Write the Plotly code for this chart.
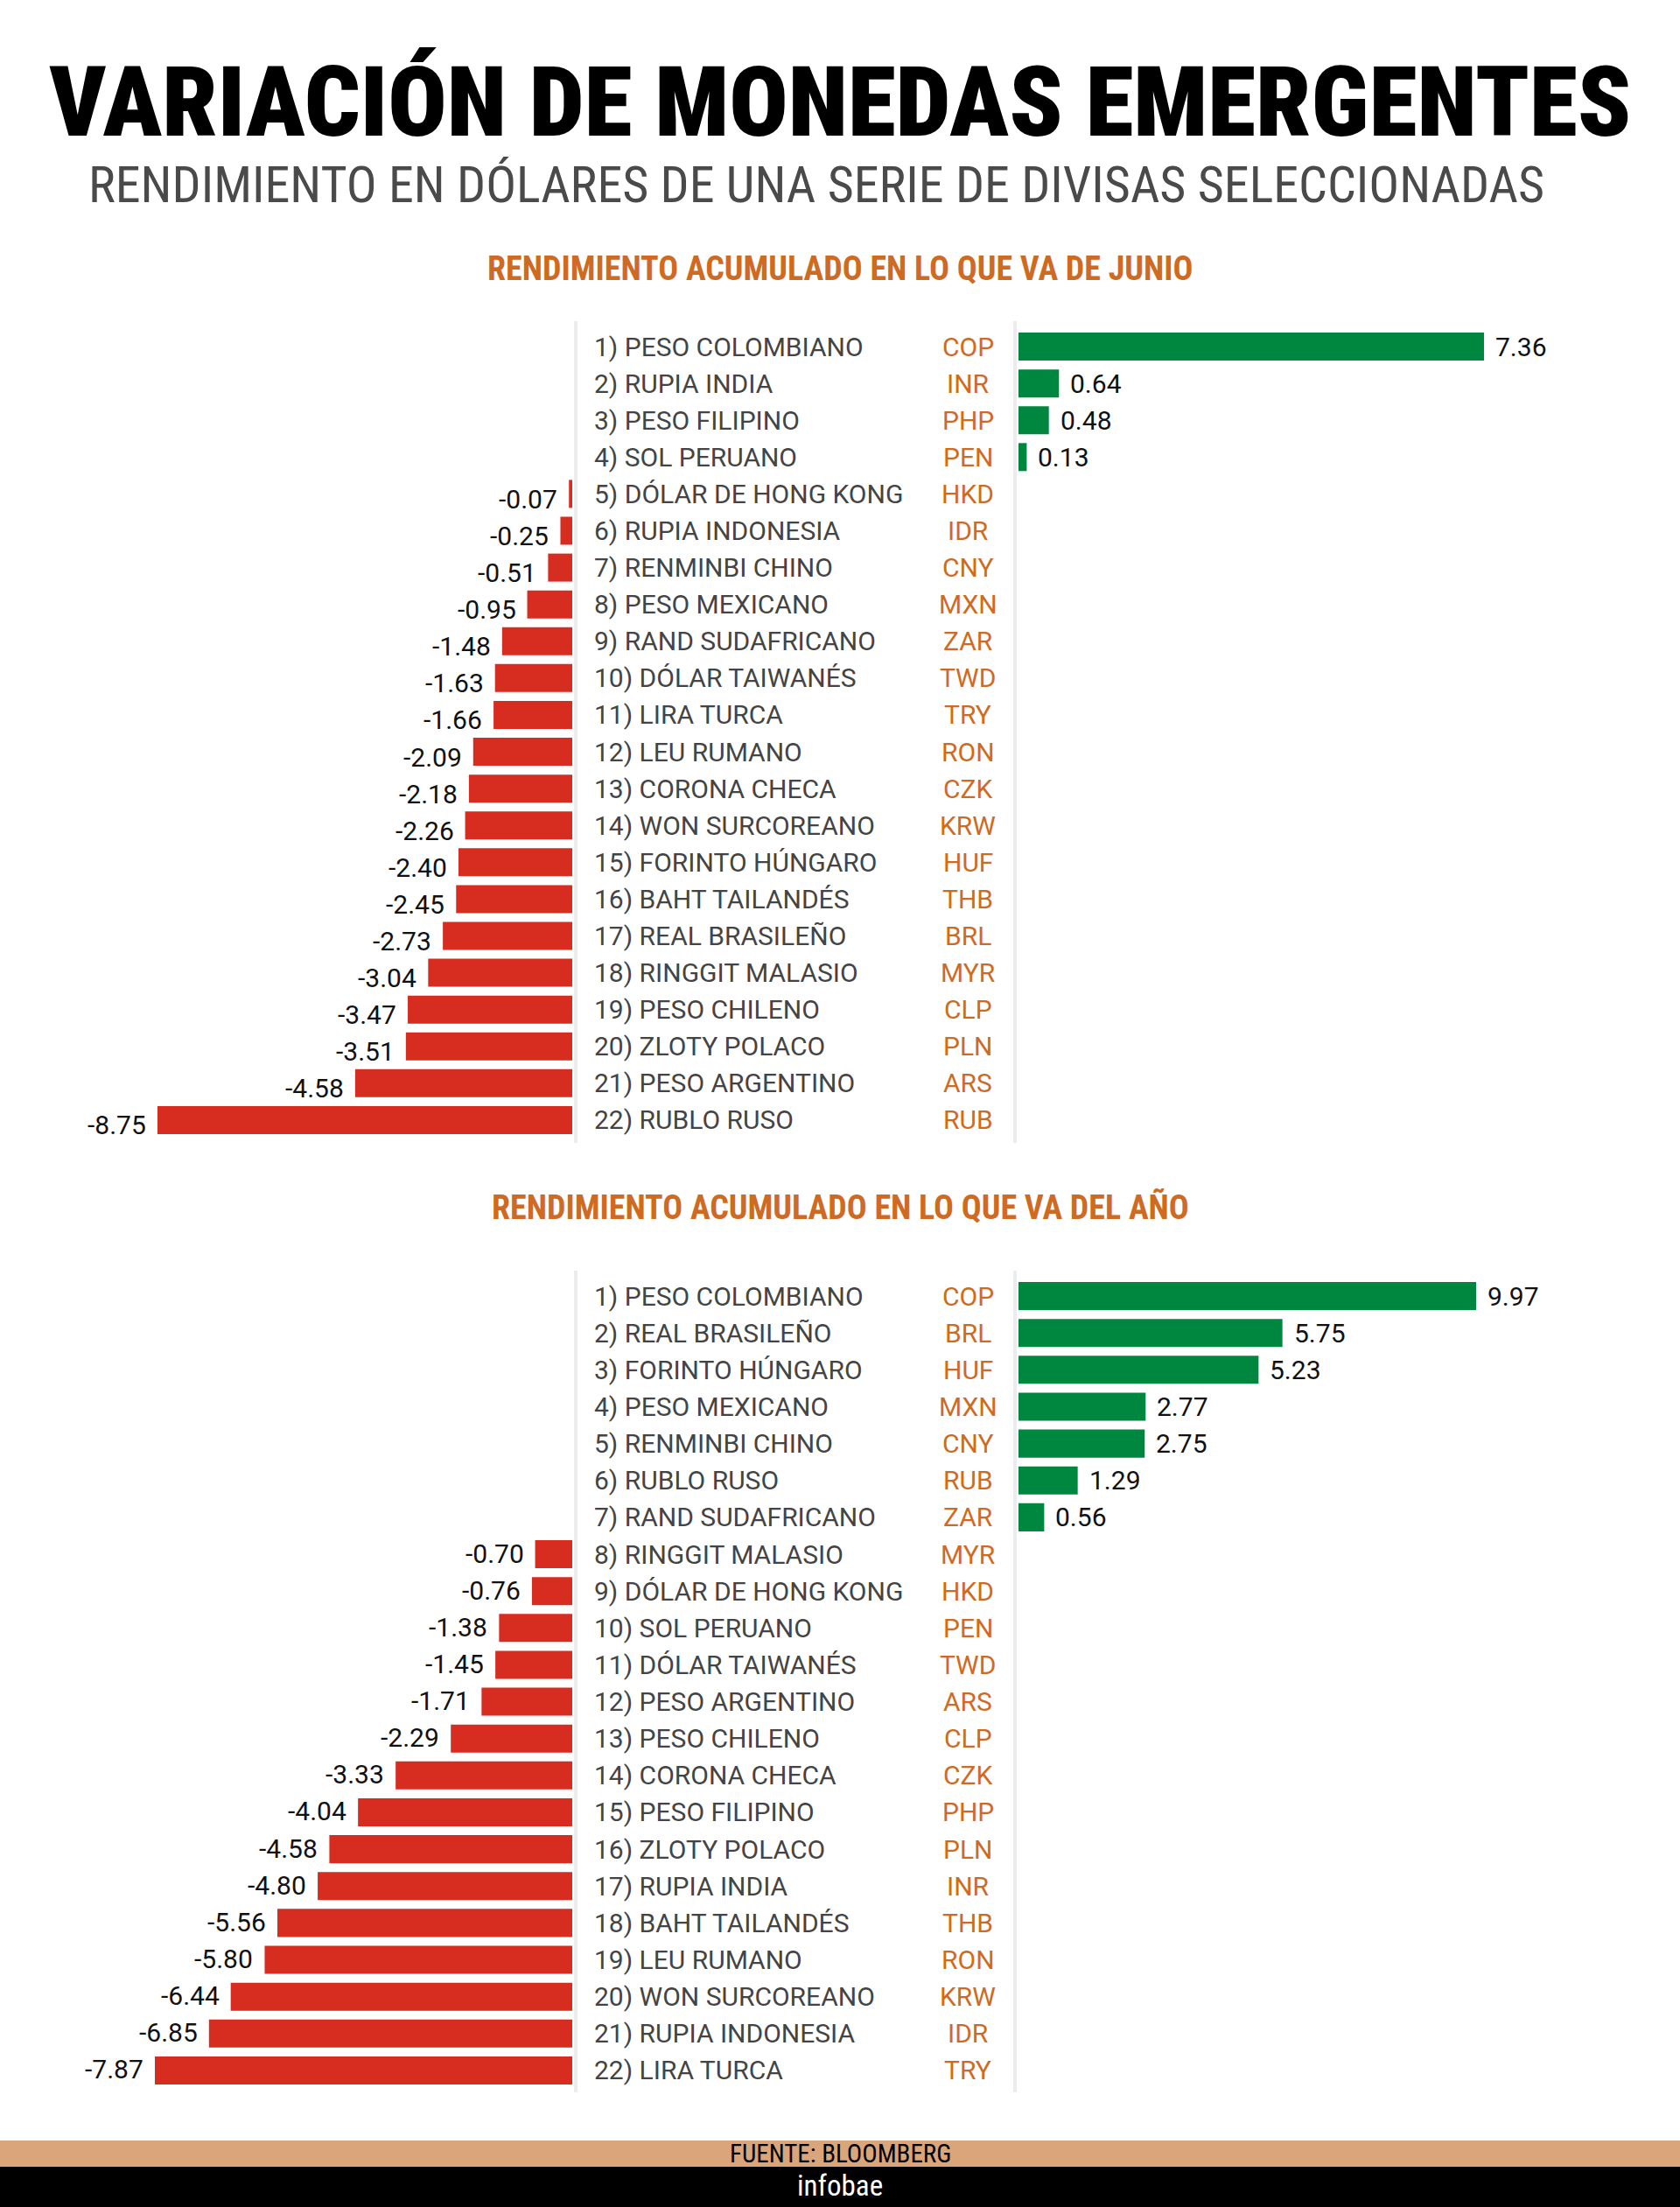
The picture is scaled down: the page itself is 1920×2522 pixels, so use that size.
import plotly.graph_objects as go

W, H = 1920, 2522

# ---------------- DATA ----------------
junio_nombres = ["PESO COLOMBIANO", "RUPIA INDIA", "PESO FILIPINO", "SOL PERUANO",
                 "DÓLAR DE HONG KONG", "RUPIA INDONESIA", "RENMINBI CHINO", "PESO MEXICANO",
                 "RAND SUDAFRICANO", "DÓLAR TAIWANÉS", "LIRA TURCA", "LEU RUMANO",
                 "CORONA CHECA", "WON SURCOREANO", "FORINTO HÚNGARO", "BAHT TAILANDÉS",
                 "REAL BRASILEÑO", "RINGGIT MALASIO", "PESO CHILENO", "ZLOTY POLACO",
                 "PESO ARGENTINO", "RUBLO RUSO"]
junio_codigos = ["COP", "INR", "PHP", "PEN", "HKD", "IDR", "CNY", "MXN", "ZAR", "TWD", "TRY",
                 "RON", "CZK", "KRW", "HUF", "THB", "BRL", "MYR", "CLP", "PLN", "ARS", "RUB"]
junio_valores = [7.36, 0.64, 0.48, 0.13, -0.07, -0.25, -0.51, -0.95, -1.48, -1.63, -1.66,
                 -2.09, -2.18, -2.26, -2.40, -2.45, -2.73, -3.04, -3.47, -3.51, -4.58, -8.75]

anio_nombres = ["PESO COLOMBIANO", "REAL BRASILEÑO", "FORINTO HÚNGARO", "PESO MEXICANO",
                "RENMINBI CHINO", "RUBLO RUSO", "RAND SUDAFRICANO", "RINGGIT MALASIO",
                "DÓLAR DE HONG KONG", "SOL PERUANO", "DÓLAR TAIWANÉS", "PESO ARGENTINO",
                "PESO CHILENO", "CORONA CHECA", "PESO FILIPINO", "ZLOTY POLACO",
                "RUPIA INDIA", "BAHT TAILANDÉS", "LEU RUMANO", "WON SURCOREANO",
                "RUPIA INDONESIA", "LIRA TURCA"]
anio_codigos = ["COP", "BRL", "HUF", "MXN", "CNY", "RUB", "ZAR", "MYR", "HKD", "PEN", "TWD",
                "ARS", "CLP", "CZK", "PHP", "PLN", "INR", "THB", "RON", "KRW", "IDR", "TRY"]
anio_valores = [9.97, 5.75, 5.23, 2.77, 2.75, 1.29, 0.56, -0.70, -0.76, -1.38, -1.45,
                -1.71, -2.29, -3.33, -4.04, -4.58, -4.80, -5.56, -5.80, -6.44, -6.85, -7.87]

titulo = "VARIACIÓN DE MONEDAS EMERGENTES"
subtitulo = "RENDIMIENTO EN DÓLARES DE UNA SERIE DE DIVISAS SELECCIONADAS"
seccion_titulos = ["RENDIMIENTO ACUMULADO EN LO QUE VA DE JUNIO",
                   "RENDIMIENTO ACUMULADO EN LO QUE VA DEL AÑO"]
fuente = "FUENTE: BLOOMBERG"
marca = "infobae"

# ---------------- STYLE ----------------
GREEN = "#00873f"
RED = "#d72d21"
ORANGE = "#cf6a23"
NAME_GRAY = "#444444"
LINE_GRAY = "#ececec"
COND = "Roboto Condensed, Liberation Sans Narrow, DejaVu Sans Condensed, Roboto, sans-serif"
REG = "Roboto, sans-serif"


def xp(px):
    return px / W


def yp(px):
    return 1 - px / H


fig = go.Figure()

sections = [
    dict(names=junio_nombres, codes=junio_codigos, vals=junio_valores,
         ytop=375, ybot=1301, neg_left=180, pos_right=1696, neg_yshift=-6,
         xn="x", xpn="x2", y="y", line_top=367, line_bot=1306, head_y=307),
    dict(names=anio_nombres, codes=anio_codigos, vals=anio_valores,
         ytop=1460, ybot=2387, neg_left=177, pos_right=1687, neg_yshift=1,
         xn="x3", xpn="x4", y="y2", line_top=1452, line_bot=2391, head_y=1380),
]

NEG_RIGHT = 654
POS_LEFT = 1164
annotations = []
shapes = []

for i, s in enumerate(sections):
    vals = s["vals"]
    codes = s["codes"]
    neg = [v if v < 0 else None for v in vals]
    pos = [v if v > 0 else None for v in vals]
    fig.add_trace(go.Bar(x=neg, y=codes, orientation="h", marker=dict(color=RED, line=dict(width=0)),
                         xaxis=s["xn"], yaxis=s["y"], showlegend=False, hoverinfo="skip"))
    fig.add_trace(go.Bar(x=pos, y=codes, orientation="h", marker=dict(color=GREEN, line=dict(width=0)),
                         xaxis=s["xpn"], yaxis=s["y"], showlegend=False, hoverinfo="skip"))

    xn_name = "xaxis" if s["xn"] == "x" else "xaxis" + s["xn"][1:]
    xpn_name = "xaxis" + s["xpn"][1:]
    y_name = "yaxis" if s["y"] == "y" else "yaxis" + s["y"][1:]
    fig.update_layout(**{
        xn_name: dict(domain=[xp(s["neg_left"]), xp(NEG_RIGHT)], range=[min(vals), 0],
                      visible=False, anchor=s["y"], fixedrange=True),
        xpn_name: dict(domain=[xp(POS_LEFT), xp(s["pos_right"])], range=[0, max(vals)],
                       visible=False, anchor=s["y"], fixedrange=True),
        y_name: dict(domain=[yp(s["ybot"]), yp(s["ytop"])], type="category",
                     categoryorder="array", categoryarray=codes,
                     range=[len(codes) - 0.5, -0.5], visible=False, anchor=s["xn"], fixedrange=True),
    })

    for k, (n, c, v) in enumerate(zip(s["names"], codes, vals)):
        annotations.append(dict(text=f"{k+1}) {n}", x=xp(677), xref="paper", y=c, yref=s["y"],
                                xanchor="left", yanchor="middle", showarrow=False,
                                font=dict(family=REG, size=30, color=NAME_GRAY)))
        annotations.append(dict(text=c, x=xp(1106), xref="paper", y=c, yref=s["y"],
                                xanchor="center", yanchor="middle", showarrow=False,
                                font=dict(family=REG, size=30, color=ORANGE)))
        if v < 0:
            annotations.append(dict(text=f"{v:.2f}", x=v, xref=s["xn"], y=c, yref=s["y"],
                                    xanchor="right", yanchor="middle", xshift=-11,
                                    yshift=s["neg_yshift"], showarrow=False,
                                    font=dict(family=REG, size=30, color="#111111")))
        else:
            annotations.append(dict(text=f"{v:.2f}", x=v, xref=s["xpn"], y=c, yref=s["y"],
                                    xanchor="left", yanchor="middle", xshift=11,
                                    showarrow=False,
                                    font=dict(family=REG, size=30, color="#111111")))

    for lx in (658, 1160):
        shapes.append(dict(type="line", xref="paper", yref="paper", x0=xp(lx), x1=xp(lx),
                           y0=yp(s["line_top"]), y1=yp(s["line_bot"]),
                           line=dict(color=LINE_GRAY, width=4)))

    annotations.append(dict(text=seccion_titulos[i], x=0.5, xref="paper", y=yp(s["head_y"]),
                            yref="paper", xanchor="center", yanchor="middle", showarrow=False,
                            font=dict(family=COND, size=38, color=ORANGE, weight=700)))

# title & subtitle
annotations.append(dict(text=titulo, x=0.5, xref="paper", y=yp(116), yref="paper",
                        xanchor="center", yanchor="middle", showarrow=False,
                        font=dict(family=COND, size=112, color="#000000", weight=900)))
annotations.append(dict(text=subtitulo, x=xp(933), xref="paper", y=yp(211), yref="paper",
                        xanchor="center", yanchor="middle", showarrow=False,
                        font=dict(family=COND, size=58, color="#4a4a4a", weight=400)))

# footer
shapes.append(dict(type="rect", xref="paper", yref="paper", x0=0, x1=1, y0=yp(2476), y1=yp(2446),
                   fillcolor="#dba57b", line=dict(width=0), layer="below"))
shapes.append(dict(type="rect", xref="paper", yref="paper", x0=0, x1=1, y0=0, y1=yp(2476),
                   fillcolor="#000000", line=dict(width=0), layer="below"))
annotations.append(dict(text=fuente, x=0.5, xref="paper", y=yp(2461), yref="paper",
                        xanchor="center", yanchor="middle", showarrow=False,
                        font=dict(family=COND, size=29, color="#000000")))
annotations.append(dict(text=marca, x=0.5, xref="paper", y=yp(2497), yref="paper",
                        xanchor="center", yanchor="middle", showarrow=False,
                        font=dict(family=COND, size=33, color="#ffffff", weight=400)))

fig.update_layout(width=W, height=H, margin=dict(l=0, r=0, t=0, b=0),
                  paper_bgcolor="#ffffff", plot_bgcolor="rgba(0,0,0,0)",
                  barmode="overlay", bargap=0.24, showlegend=False,
                  annotations=annotations, shapes=shapes)

fig.write_html("out.html", config={"displayModeBar": False})
